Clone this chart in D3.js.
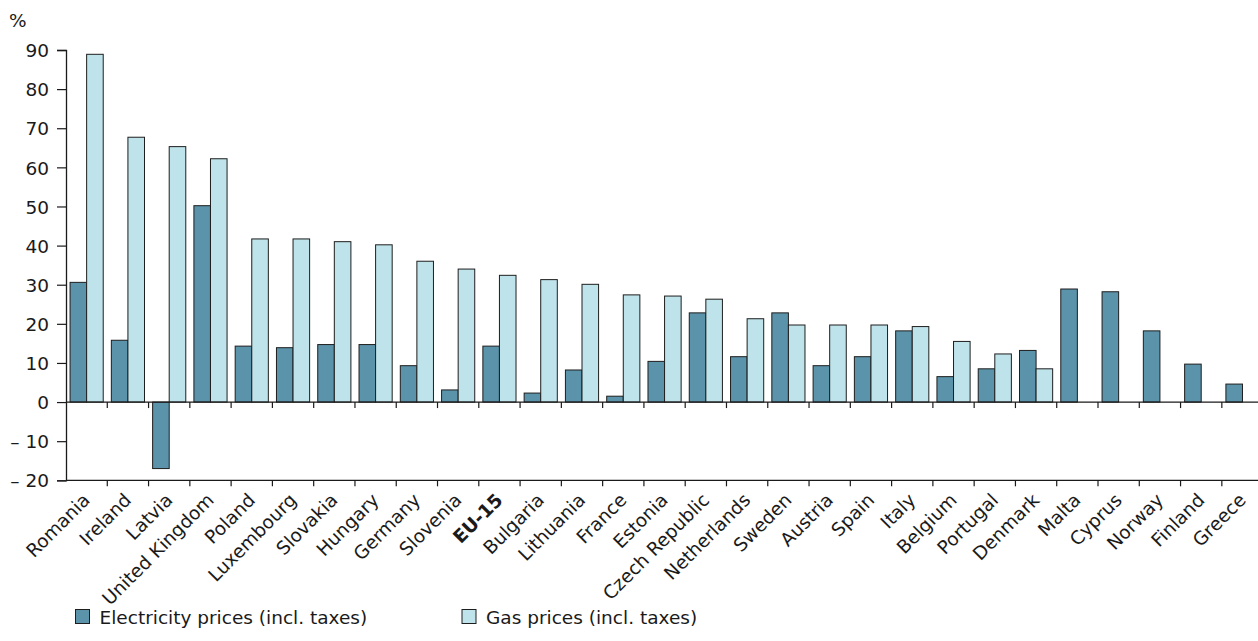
<!DOCTYPE html>
<html><head><meta charset="utf-8">
<script src="https://cdn.jsdelivr.net/npm/d3@7"></script>
<style>
body{margin:0;background:#fff;}
text{font-family:"DejaVu Sans",Verdana,sans-serif;fill:#1a1a1a;}
</style></head>
<body><svg id="c" width="1258" height="641"></svg>
<script>
const countries = ["Romania","Ireland","Latvia","United Kingdom","Poland","Luxembourg","Slovakia","Hungary","Germany","Slovenia","EU-15","Bulgaria","Lithuania","France","Estonia","Czech Republic","Netherlands","Sweden","Austria","Spain","Italy","Belgium","Portugal","Denmark","Malta","Cyprus","Norway","Finland","Greece"];
const electricity = [30.6,15.8,-17.0,50.2,14.3,13.9,14.7,14.7,9.3,3.1,14.3,2.3,8.2,1.5,10.4,22.8,11.6,22.8,9.3,11.6,18.2,6.5,8.5,13.2,28.9,28.2,18.2,9.7,4.6];
const gas = [88.9,67.7,65.3,62.2,41.7,41.7,41.0,40.2,36.0,34.0,32.4,31.3,30.1,27.4,27.1,26.3,21.3,19.7,19.7,19.7,19.3,15.5,12.3,8.5,null,null,null,null,null];
const seriesNames = ["Electricity prices (incl. taxes)","Gas prices (incl. taxes)"];
const seriesColors = ["#5b93aa","#bfe3ea"];
const yTicks = [-20,-10,0,10,20,30,40,50,60,70,80,90];

const FS = 18.5;
const svg = d3.select("#c");
const x0 = d3.scaleBand().domain(countries).range([66, 66 + 29*41.28]).padding(0);
const x1 = d3.scaleBand().domain([0,1]).range([0, x0.bandwidth()]).paddingInner(0).paddingOuter(0.245);
const y = d3.scaleLinear().domain([-20, 90]).range([480.3, 50]);

// bars
const rows = countries.map((c,i)=>({c, vals:[electricity[i], gas[i]]}));
const g = svg.append("g");
rows.forEach(r=>{
  r.vals.forEach((v,k)=>{
    if(v==null) return;
    g.append("rect")
      .attr("x", x0(r.c)+x1(k))
      .attr("width", x1.bandwidth())
      .attr("y", y(Math.max(0,v)))
      .attr("height", Math.abs(y(v)-y(0)))
      .attr("fill", seriesColors[k])
      .attr("stroke", "#1e1e1e")
      .attr("stroke-width", 1);
  });
});

// y axis
const yAxis = d3.axisLeft(y).tickValues(yTicks).tickSize(9).tickPadding(8)
  .tickFormat(d => d<0 ? "\u2013 " + Math.abs(d) : String(d));
const ya = svg.append("g").attr("transform","translate(66,0)").call(yAxis);
ya.attr("font-size", FS).attr("font-family", null);
ya.select(".domain").attr("stroke","#1a1a1a").attr("stroke-width",1.3);
ya.selectAll(".tick line").attr("stroke","#1a1a1a").attr("stroke-width",1.2);
ya.selectAll(".tick text").attr("font-size",FS).attr("dy","0.36em");

svg.append("text").attr("x",9).attr("y",27).attr("font-size",FS).text("%");

// zero line and bottom line with boundary ticks
const bounds = countries.map(c=>x0(c));
[0,-20].forEach(v=>{
  const yy = y(v);
  svg.append("line").attr("x1",66).attr("x2",x0.range()[1]).attr("y1",yy).attr("y2",yy)
    .attr("stroke","#1a1a1a").attr("stroke-width",1.3);
  svg.selectAll(null).data(bounds.slice(1)).enter().append("line")
    .attr("x1",d=>d).attr("x2",d=>d).attr("y1",yy).attr("y2",yy+6)
    .attr("stroke","#1a1a1a").attr("stroke-width",1.2);
});

// x labels
const xAxis = d3.axisBottom(x0).tickSize(0).tickPadding(0);
const xa = svg.append("g").attr("transform","translate(0,"+y(-20)+")").call(xAxis);
xa.attr("font-size", FS).attr("font-family", null);
xa.select(".domain").remove();
xa.selectAll(".tick text")
  .attr("font-size",FS)
  .attr("text-anchor","end")
  .attr("font-weight", d => d==="EU-15" ? "bold" : "normal")
  .attr("transform","translate(4.5,21) rotate(-45)")
  .attr("dy",0).attr("y",0);

// legend
const legX = [75.5, 462];
seriesNames.forEach((n,k)=>{
  svg.append("rect").attr("x",legX[k]).attr("y",609.5).attr("width",14).attr("height",14)
    .attr("fill",seriesColors[k]).attr("stroke","#1e1e1e").attr("stroke-width",1);
  svg.append("text").attr("x",legX[k]+24).attr("y",624).attr("font-size",FS).text(n);
});
</script></body></html>
